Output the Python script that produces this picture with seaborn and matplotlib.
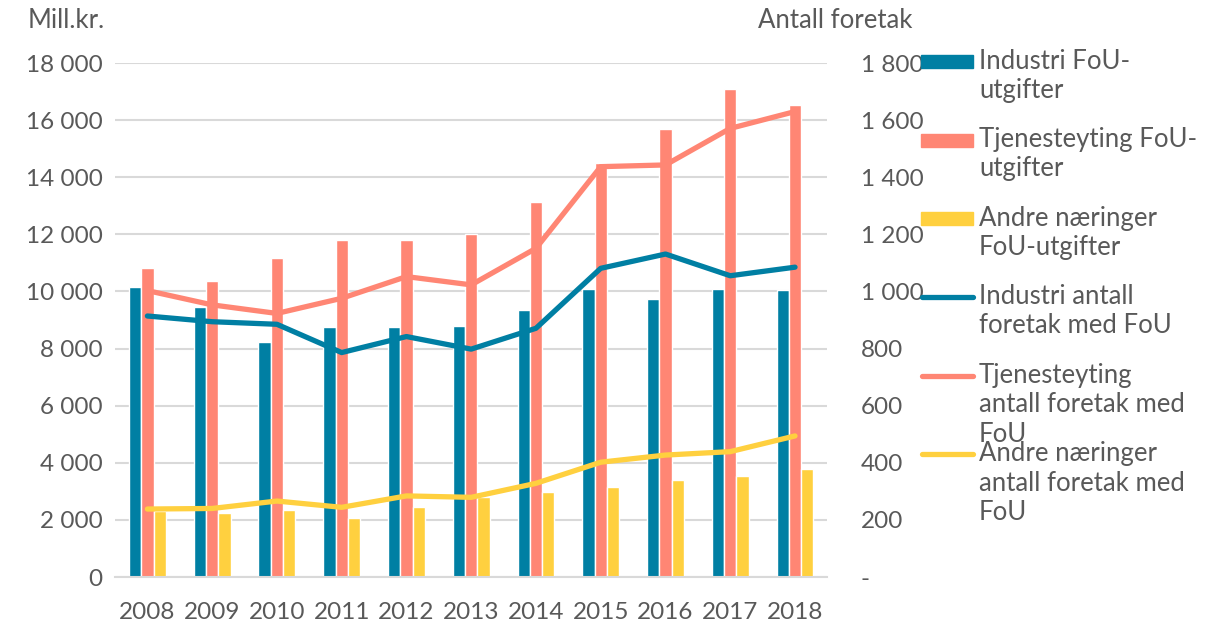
import numpy as np
import pandas as pd
import matplotlib
matplotlib.use("Agg")
import matplotlib.pyplot as plt
from matplotlib.ticker import FuncFormatter
from matplotlib.lines import Line2D
from matplotlib.patches import Rectangle
import seaborn as sns

# data
years = ["2008", "2009", "2010", "2011", "2012", "2013", "2014", "2015", "2016", "2017", "2018"]
industri_fou = [10150, 9460, 8240, 8770, 8740, 8800, 9340, 10080, 9750, 10090, 10050]
tjeneste_fou = [10820, 10370, 11170, 11790, 11800, 12010, 13120, 14510, 15680, 17080, 16540]
andre_fou = [2320, 2230, 2350, 2070, 2450, 2810, 2980, 3150, 3400, 3530, 3780]
industri_antall = [914, 894, 885, 786, 842, 798, 871, 1081, 1131, 1055, 1085]
tjeneste_antall = [1003, 953, 923, 976, 1052, 1023, 1151, 1437, 1443, 1571, 1630]
andre_antall = [238, 240, 266, 244, 284, 279, 328, 402, 427, 439, 494]

bar_labels = ["Industri FoU-\nutgifter", "Tjenesteyting FoU-\nutgifter", "Andre næringer\nFoU-utgifter"]
line_labels = ["Industri antall\nforetak med FoU", "Tjenesteyting\nantall foretak med\nFoU",
               "Andre næringer\nantall foretak med\nFoU"]
colors = ["#007FA3", "#FF8674", "#FFD03F"]

sns.set_theme(style="white")
plt.rcParams["font.family"] = ["Lato", "DejaVu Sans"]
txt = "#595959"
num_fs = 17.5
word_fs = 18.5

bars = pd.DataFrame({
    "year": years * 3,
    "serie": [bar_labels[0]] * 11 + [bar_labels[1]] * 11 + [bar_labels[2]] * 11,
    "value": industri_fou + tjeneste_fou + andre_fou,
})
pos = np.arange(len(years))
lines = pd.DataFrame({
    "pos": np.concatenate([pos, pos, pos]),
    "serie": [line_labels[0]] * 11 + [line_labels[1]] * 11 + [line_labels[2]] * 11,
    "value": industri_antall + tjeneste_antall + andre_antall,
})

W, H = 1205, 626
fig = plt.figure(figsize=(W / 100, H / 100), dpi=100)
ax = fig.add_axes([115 / W, 1 - 577 / H, (827.4 - 115) / W, (577 - 63) / H])
ax2 = ax.twinx()

sns.barplot(data=bars, x="year", y="value", hue="serie", palette=colors, width=0.57,
            gap=0, saturation=1, legend=False, ax=ax, zorder=2)
sns.lineplot(data=lines, x="pos", y="value", hue="serie", palette=colors, linewidth=3.8,
             legend=False, ax=ax2)
for l in ax2.lines:
    l.set_solid_capstyle("round")
    l.set_solid_joinstyle("round")

ax.set_xlim(-0.5, len(years) - 0.5)
ax.set_ylim(0, 18000)
ax2.set_ylim(0, 1800)
ax.set_yticks(np.arange(0, 18001, 2000))
ax2.set_yticks(np.arange(0, 1801, 200))
ax.yaxis.set_major_formatter(FuncFormatter(lambda v, p: f"{v:,.0f}".replace(",", " ")))
ax2.yaxis.set_major_formatter(FuncFormatter(lambda v, p: "-" if v == 0 else f"{v:,.0f}".replace(",", " ")))
ax.grid(axis="y", color="#d9d9d9", linewidth=1.5, zorder=0)
ax.set_axisbelow(True)
ax.set_xlabel("")
ax.set_ylabel("")
ax2.set_xlabel("")
ax2.set_ylabel("")
for a in (ax, ax2):
    for s in a.spines.values():
        s.set_visible(False)
ax.spines["bottom"].set_visible(True)
ax.spines["bottom"].set_color("#d9d9d9")
ax.spines["bottom"].set_linewidth(1.5)
ax.tick_params(axis="both", length=0, labelsize=num_fs, labelcolor=txt)
ax.tick_params(axis="y", pad=9)
ax.tick_params(axis="x", pad=18)
ax2.tick_params(axis="y", length=0, labelsize=num_fs, labelcolor=txt, pad=24)

fig.text(28 / W, 1 - 21 / H, "Mill.kr.", fontsize=word_fs, color=txt, va="center", ha="left")
fig.text(912 / W, 1 - 21 / H, "Antall foretak", fontsize=word_fs, color=txt, va="center", ha="right")

# legend drawn by hand so the handle lines up with the first text line
hy = [61.7, 140, 218.7, 297, 375.7, 454.3]
labels = bar_labels + line_labels
for i, (lab, y) in enumerate(zip(labels, hy)):
    c = colors[i % 3]
    if i < 3:
        fig.patches.append(Rectangle((921 / W, 1 - (y + 6.5) / H), 52 / W, 13 / H,
                                     transform=fig.transFigure, color=c))
    else:
        fig.lines.append(Line2D([922 / W, 973 / W], [1 - y / H, 1 - y / H], transform=fig.transFigure,
                                color=c, linewidth=3.8, solid_capstyle="round"))
    fig.text(979 / W, 1 - (y - 13) / H, lab, fontsize=word_fs, color=txt, va="top", ha="left",
             linespacing=1.22)

fig.savefig("out.png", dpi=100)
